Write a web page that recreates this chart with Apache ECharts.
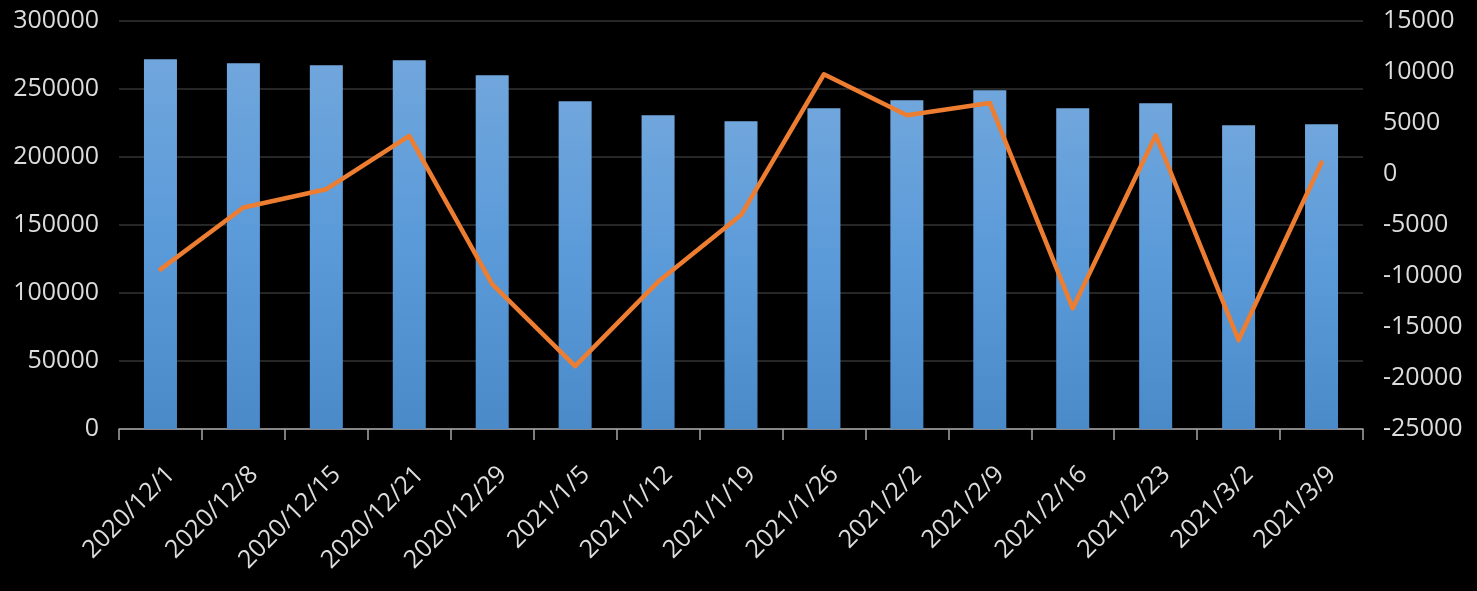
<!DOCTYPE html>
<html>
<head>
<meta charset="utf-8">
<script src="https://cdn.jsdelivr.net/npm/echarts@6/dist/echarts.min.js"></script>
<style>
html,body{margin:0;padding:0;background:#000;}
#chart{width:1477px;height:591px;}
</style>
</head>
<body>
<div id="chart"></div>
<script>
var categories = ['2020/12/1','2020/12/8','2020/12/15','2020/12/21','2020/12/29','2021/1/5','2021/1/12','2021/1/19','2021/1/26','2021/2/2','2021/2/9','2021/2/16','2021/2/23','2021/3/2','2021/3/9'];
var barValues = [271900, 268900, 267500, 271100, 260100, 241000, 230700, 226300, 235900, 241700, 249100, 235900, 239500, 223400, 224100];
var lineValues = [-9350, -3280, -1490, 3740, -10800, -18830, -10570, -4030, 9780, 5760, 6970, -13170, 3800, -16280, 1130];

var labelColor = '#dcdcdc';
var fontFam = '"Open Sans", "Noto Sans", sans-serif';
var plain = function (v) { return String(v); };
var chart = echarts.init(document.getElementById('chart'));
chart.setOption({
  backgroundColor: '#000000',
  animation: false,
  grid: {left: 119, right: 114, top: 21, bottom: 162, containLabel: false, outerBoundsMode: 'none'},
  xAxis: {
    type: 'category',
    data: categories,
    boundaryGap: true,
    axisLine: {show: true, lineStyle: {color: '#a6a6a6', width: 1.5}},
    axisTick: {show: true, alignWithLabel: false, length: 11, lineStyle: {color: '#a6a6a6', width: 1.5}},
    axisLabel: {color: labelColor, fontSize: 25, fontFamily: fontFam, rotate: 45, margin: 31, interval: 0,
      align: 'right', verticalAlign: 'top', lineHeight: 30}
  },
  yAxis: [
    {
      type: 'value', min: 0, max: 300000, interval: 50000,
      axisLine: {show: false}, axisTick: {show: false},
      splitLine: {show: true, lineStyle: {color: '#262626', width: 2}},
      axisLabel: {color: labelColor, fontSize: 25, fontFamily: fontFam, margin: 20, formatter: plain}
    },
    {
      type: 'value', min: -25000, max: 15000, interval: 5000,
      axisLine: {show: false}, axisTick: {show: false},
      splitLine: {show: false},
      axisLabel: {color: labelColor, fontSize: 25, fontFamily: fontFam, margin: 20, formatter: plain}
    }
  ],
  series: [
    {
      type: 'bar',
      yAxisIndex: 0,
      data: barValues,
      barWidth: 33,
      itemStyle: {
        color: new echarts.graphic.LinearGradient(0, 0, 0, 1, [
          {offset: 0, color: '#70a6dc'},
          {offset: 0.5, color: '#5a9ad9'},
          {offset: 1, color: '#4a8ac9'}
        ])
      }
    },
    {
      type: 'line',
      yAxisIndex: 1,
      data: lineValues,
      symbol: 'none',
      lineStyle: {color: '#ED7D31', width: 4.5, cap: 'round', join: 'round'},
      itemStyle: {color: '#ED7D31'}
    }
  ]
});
</script>
</body>
</html>
